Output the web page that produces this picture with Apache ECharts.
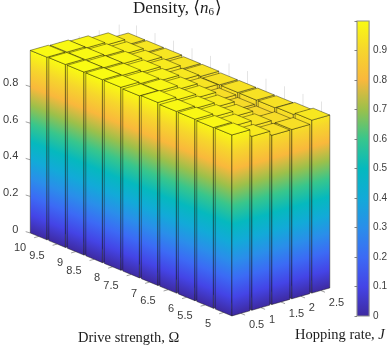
<!DOCTYPE html>
<html>
<head>
<meta charset="utf-8">
<style>html,body{margin:0;padding:0;background:#fff}#c{width:390px;height:346px}</style>
<script src="https://cdn.jsdelivr.net/npm/echarts@6/dist/echarts.min.js"></script>
</head>
<body>
<div id="c"></div>
<script>
// ---- data ----
const hoppingRates = [0.5, 1, 1.5, 2, 2.5];
const driveStrengths = [5, 5.5, 6, 6.5, 7, 7.5, 8, 8.5, 9, 9.5, 10];
const densityJ05 = [0.989, 0.988, 0.992, 0.993, 1.0, 0.995, 1.0, 1.0, 1.0, 1.0, 0.998];
const densityJ10 = [0.950, 0.965, 0.975, 0.980, 0.985, 0.990, 0.990, 0.993, 0.993, 0.995, 0.995];
const densityJ15 = [0.925, 0.935, 0.945, 0.955, 0.965, 0.970, 0.975, 0.980, 0.985, 0.985, 0.987];
const densityJ20 = [0.925, 0.915, 0.905, 0.910, 0.920, 0.935, 0.945, 0.955, 0.960, 0.965, 0.972];
const densityJ25 = [0.945, 0.935, 0.930, 0.930, 0.930, 0.930, 0.935, 0.935, 0.940, 0.940, 0.940];
const densityRows = [densityJ05, densityJ10, densityJ15, densityJ20, densityJ25];
const hoppingTicks = ['0.5', '1', '1.5', '2', '2.5'];
const driveTicks = ['5', '5.5', '6', '6.5', '7', '7.5', '8', '8.5', '9', '9.5', '10'];
const parulaStops = ['#3e2aa0','#4444e6','#3c6af5','#2a8eea','#12aad8','#05b9be','#38c68c','#9cc04a','#f9b83c','#f6d62c','#f9fb12'];

// ---- projection of the 3D box onto the hidden plane axes ----
const barHalf = 0.225;
const omegaLeft = 10 + barHalf, jLeft = 0.5 - barHalf;
const pxPerOmegaX = 37.4, pxPerOmegaY = 15.22, pxPerJX = 40.4, pxPerJY = 11.42;
const zPx = 183;
function project(api, gi, J, O, z) {
  const dO = omegaLeft - O, dJ = J - jLeft;
  const u = dO * pxPerOmegaX + dJ * pxPerJX;
  const v = z + (-dO * pxPerOmegaY + dJ * pxPerJY) / zPx;
  return api.coord([u, v]);
}
const gradStops = parulaStops.map((c, i) => ({offset: i / 10, color: c}));
function faceGradient(a, b, zero, one) {
  // iso-height lines run along a->b; gradient runs across them, from z=0 to z=1
  const dx = b[0] - a[0], dy = b[1] - a[1];
  const L = Math.hypot(dx, dy), nx = -dy / L, ny = dx / L;
  const vx = one[0] - zero[0], vy = one[1] - zero[1];
  const k = vx * nx + vy * ny;
  return new echarts.graphic.LinearGradient(zero[0], zero[1], zero[0] + nx * k, zero[1] + ny * k, gradStops, true);
}
function colorAt(z) {
  return echarts.color.lerp(Math.min(1, Math.max(0, z)), parulaStops);
}
const edge = {stroke: 'rgba(20,20,10,0.62)', lineWidth: 0.7, lineJoin: 'round'};
function poly(points, fill) {
  return {type: 'polygon', shape: {points}, style: Object.assign({fill}, edge)};
}

// bars painted from the back of the box to the front
const barData = [];
for (let j = driveStrengths.length - 1; j >= 0; j--) {
  for (let i = hoppingRates.length - 1; i >= 0; i--) {
    barData.push([hoppingRates[i], driveStrengths[j], densityRows[i][j]]);
  }
}
function renderBar(params, api) {
  const J = api.value(0), O = api.value(1), h = api.value(2);
  const j0 = J - barHalf, j1 = J + barHalf, o0 = O - barHalf, o1 = O + barHalf;
  const p = (a, b, z) => project(api, 0, a, b, z);
  const A0 = p(j0, o1, 0), B0 = p(j0, o0, 0), C0 = p(j1, o0, 0);
  const A1 = p(j0, o1, h), B1 = p(j0, o0, h), C1 = p(j1, o0, h), D1 = p(j1, o1, h);
  const leftFill = faceGradient(A0, B0, A0, p(j0, o1, 1));
  const rightFill = faceGradient(B0, C0, B0, p(j0, o0, 1));
  return {type: 'group', children: [
    poly([A0, B0, B1, A1], leftFill),
    poly([B0, C0, C1, B1], rightFill),
    poly([A1, B1, C1, D1], colorAt(h))
  ]};
}
// faint back-wall grid lines
const jBack = 2.5 + barHalf, oBack = 10 + barHalf, oFront = 5 - barHalf;
const wallData = [];
driveStrengths.forEach(o => wallData.push([jBack, o, jBack, o]));
hoppingRates.forEach(v => wallData.push([v, oBack, v, oBack]));
function renderWall(params, api) {
  const a = project(api, 0, api.value(0), api.value(1), 0);
  const b = project(api, 0, api.value(0), api.value(1), 1);
  return {type: 'line', shape: {x1: a[0], y1: a[1], x2: b[0], y2: b[1]}, style: {stroke: '#e4e4e4', lineWidth: 1}};
}
// slanted ticks & labels of the two floor axes
const tickColor = '#8a8a8a', labelColor = '#3c3c3c', sans = '"Liberation Sans", Arial, sans-serif';
function renderOmegaTick(params, api) {
  const O = api.value(0), a = project(api, 0, jLeft, O, 0);
  return {type: 'group', children: [
    {type: 'line', shape: {x1: a[0], y1: a[1], x2: a[0] - 4.5, y2: a[1] + 1.3}, style: {stroke: tickColor, lineWidth: 0.8}},
    {type: 'text', style: {x: a[0] - 12.5, y: a[1] + 11.5, text: driveTicks[params.dataIndex], align: 'right', verticalAlign: 'middle', fill: labelColor, font: '11px ' + sans}}
  ]};
}
function renderJTick(params, api) {
  const J = api.value(0), a = project(api, 0, J, oFront, 0);
  return {type: 'group', children: [
    {type: 'line', shape: {x1: a[0], y1: a[1], x2: a[0] + 4.2, y2: a[1] + 1.7}, style: {stroke: tickColor, lineWidth: 0.8}},
    {type: 'text', style: {x: a[0] + 8, y: a[1] + 12, text: hoppingTicks[params.dataIndex], align: 'left', verticalAlign: 'middle', fill: labelColor, font: '11px ' + sans}}
  ]};
}
const zTicks = [0, 0.2, 0.4, 0.6, 0.8];
function renderZTick(params, api) {
  const a = api.coord([0, api.value(0)]);
  return {type: 'line', shape: {x1: a[0], y1: a[1], x2: a[0] - 4.6, y2: a[1] - 1.4}, style: {stroke: tickColor, lineWidth: 0.8}};
}
function renderColorbar(params, api) {
  const a = api.coord([0, 0]), b = api.coord([1, 1]);
  return {type: 'rect', shape: {x: a[0], y: b[1], width: b[0] - a[0], height: a[1] - b[1]},
    style: {fill: new echarts.graphic.LinearGradient(0, 1, 0, 0, gradStops), stroke: '#8c8c8c', lineWidth: 1.1}};
}

const serif = '"Liberation Serif", "DejaVu Serif", serif';
const chart = echarts.init(document.getElementById('c'), null, {renderer: 'canvas'});
const rs = (size, style) => ({fontFamily: serif, fontSize: size, fontWeight: 'normal', fontStyle: style || 'normal', color: '#1c1c1c'});
chart.setOption({
  animation: false,
  backgroundColor: '#fff',
  title: [
    {text: '{a|Density, ⟨}{i|n}{s|6}{a|⟩}', left: 133, top: 0, padding: 0, textStyle: {fontWeight: 'normal', rich: {
      a: rs(17), i: rs(17, 'italic'),
      s: Object.assign(rs(11), {padding: [7, 1, 0, 0]})}}},
    {text: 'Drive strength, Ω', left: 78, top: 331, padding: 0, textStyle: {fontFamily: serif, fontSize: 14.5, fontWeight: 'normal', color: '#1c1c1c'}},
    {text: '{a|Hopping rate, }{i|J}', left: 295, top: 328, padding: 0, textStyle: {fontWeight: 'normal', rich: {
      a: rs(14.5), i: rs(14.5, 'italic')}}}
  ],
  grid: [
    {left: 27, top: 50, width: 303, height: 183, containLabel: false},
    {left: 357, top: 21, width: 13, height: 295}
  ],
  xAxis: [
    {gridIndex: 0, type: 'value', min: 0, max: 303, show: false},
    {gridIndex: 1, type: 'value', min: 0, max: 1, show: false}
  ],
  yAxis: [
    {gridIndex: 0, type: 'value', min: 0, max: 1, interval: 0.2, position: 'left',
      axisLine: {show: false}, axisTick: {show: false}, splitLine: {show: false},
      axisLabel: {color: labelColor, fontFamily: sans, fontSize: 11, margin: 12, verticalAlign: 'bottom', lineHeight: 7,
        formatter: v => v >= 1 ? '' : String(+v.toFixed(1))}},
    {gridIndex: 1, type: 'value', min: 0, max: 1, interval: 0.1, position: 'right', z: 5,
      axisLine: {show: false}, axisTick: {show: true, inside: true, length: 2.5, lineStyle: {color: '#666', width: 0.8}}, splitLine: {show: false},
      axisLabel: {color: labelColor, fontFamily: sans, fontSize: 10, margin: 4,
        formatter: v => v >= 1 ? '' : String(+v.toFixed(1))}}
  ],
  series: [
    {type: 'custom', coordinateSystem: 'cartesian2d', xAxisIndex: 0, yAxisIndex: 0, clip: false, silent: true, data: wallData, renderItem: renderWall, encode: {x: 0, y: 1}},
    {type: 'custom', coordinateSystem: 'cartesian2d', xAxisIndex: 0, yAxisIndex: 0, clip: false, silent: true, data: zTicks.map(z => [z]), renderItem: renderZTick},
    {type: 'custom', coordinateSystem: 'cartesian2d', xAxisIndex: 0, yAxisIndex: 0, clip: false, silent: true, data: driveStrengths.map(o => [o]), renderItem: renderOmegaTick},
    {type: 'custom', coordinateSystem: 'cartesian2d', xAxisIndex: 0, yAxisIndex: 0, clip: false, silent: true, data: hoppingRates.map(v => [v]), renderItem: renderJTick},
    {type: 'custom', coordinateSystem: 'cartesian2d', xAxisIndex: 0, yAxisIndex: 0, clip: false, silent: true, data: barData, renderItem: renderBar, encode: {x: 0, y: 2}},
    {type: 'custom', coordinateSystem: 'cartesian2d', xAxisIndex: 1, yAxisIndex: 1, clip: false, silent: true, z: 1, data: [[0, 0]], renderItem: renderColorbar}
  ]
});
</script>
</body>
</html>
